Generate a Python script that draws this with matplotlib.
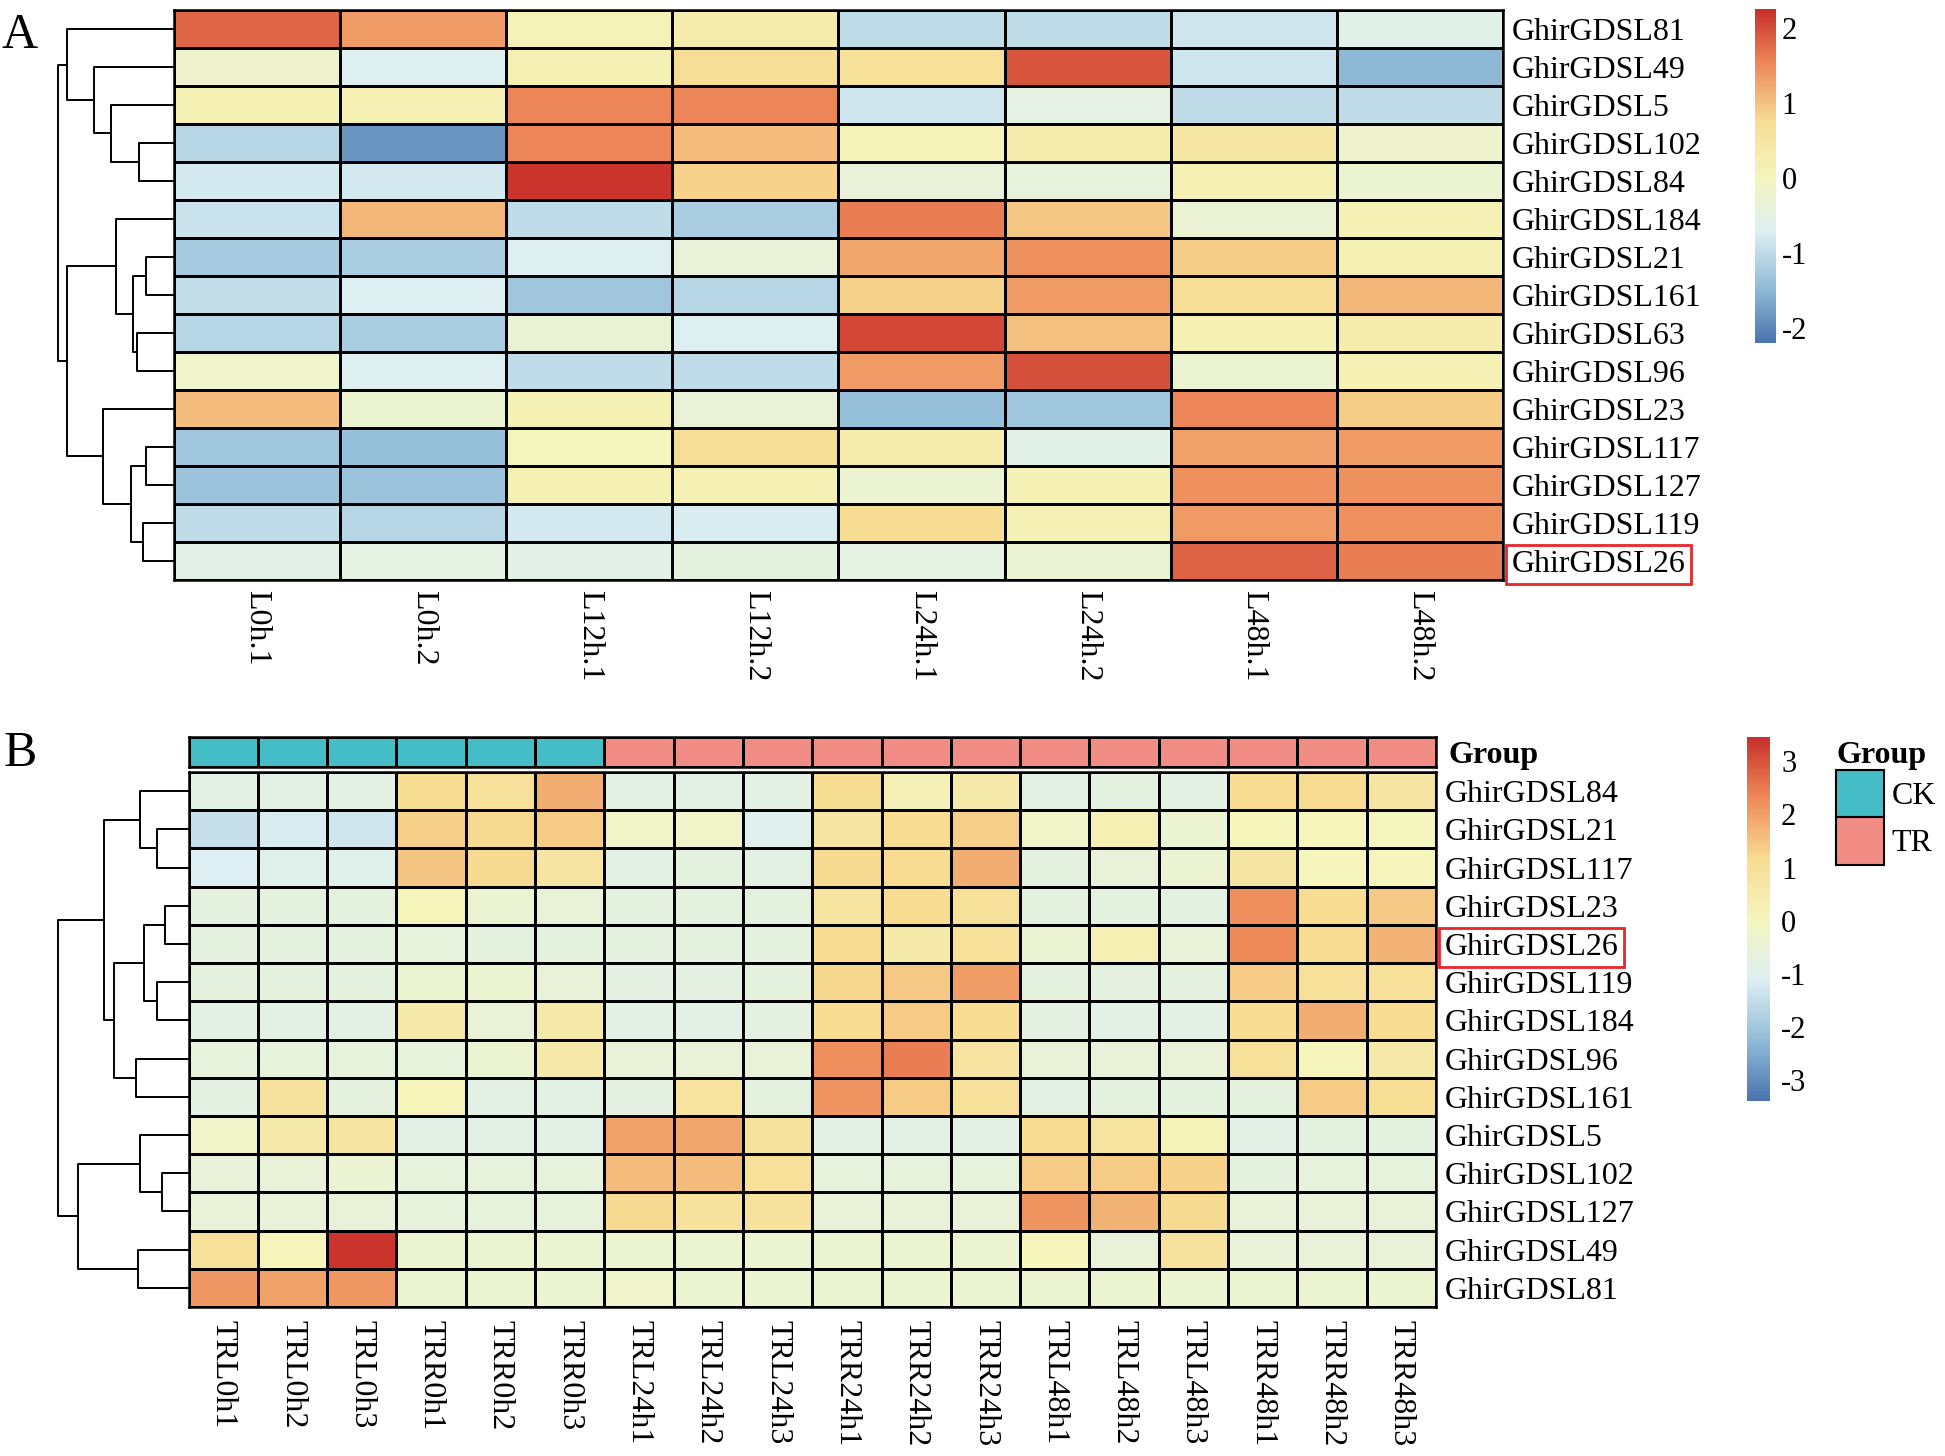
"""Heatmaps A and B of GhirGDSL expression with row dendrograms"""

import matplotlib.pyplot as plt
import numpy as np
from matplotlib.colors import LinearSegmentedColormap, ListedColormap
from matplotlib.patches import Patch

plt.rcParams['font.family'] = ['Liberation Serif', 'DejaVu Serif']
plt.rcParams['axes.unicode_minus'] = False

# ---- panel A data ----
genes_a = ['GhirGDSL81', 'GhirGDSL49', 'GhirGDSL5', 'GhirGDSL102', 'GhirGDSL84',
           'GhirGDSL184', 'GhirGDSL21', 'GhirGDSL161', 'GhirGDSL63', 'GhirGDSL96',
           'GhirGDSL23', 'GhirGDSL117', 'GhirGDSL127', 'GhirGDSL119', 'GhirGDSL26']
samples_a = ['L0h.1', 'L0h.2', 'L12h.1', 'L12h.2', 'L24h.1', 'L24h.2', 'L48h.1', 'L48h.2']
values_a = np.array([
    [1.8, 1.35, 0.1, 0.3, -1.0, -1.0, -0.85, -0.6],
    [-0.2, -0.7, 0.15, 0.7, 0.65, 1.95, -0.85, -1.5],
    [0.15, 0.15, 1.55, 1.55, -0.85, -0.5, -1.0, -1.0],
    [-1.1, -1.85, 1.55, 1.05, 0.1, 0.3, 0.45, -0.2],
    [-0.8, -0.8, 2.2, 0.85, -0.35, -0.4, 0.15, -0.25],
    [-0.9, 1.1, -1.0, -1.2, 1.6, 0.95, -0.3, 0.15],
    [-1.25, -1.2, -0.7, -0.35, 1.25, 1.45, 0.9, 0.15],
    [-0.95, -0.7, -1.3, -1.1, 0.85, 1.35, 0.7, 1.1],
    [-1.1, -1.2, -0.3, -0.7, 2.05, 1.0, 0.15, 0.3],
    [-0.15, -0.7, -1.0, -1.0, 1.35, 2.0, -0.25, 0.15],
    [1.05, -0.25, 0.15, -0.35, -1.4, -1.3, 1.55, 0.9],
    [-1.3, -1.4, 0.0, 0.7, 0.3, -0.6, 1.3, 1.35],
    [-1.35, -1.35, 0.15, 0.15, -0.25, 0.15, 1.45, 1.45],
    [-1.0, -1.1, -0.8, -0.75, 0.75, 0.15, 1.35, 1.45],
    [-0.55, -0.5, -0.55, -0.45, -0.5, -0.3, 1.85, 1.6],
])
# tree: (left, right, height), leaves are row indices
tree_a = ((0, (1, (2, (3, 4, 78), 142), 180), 240),
          ((5, ((6, 7, 63), (8, 9, 82), 93), 130),
           (10, ((11, 12, 63), (13, 14, 70), 97), 160), 240), 260)

# ---- panel B data ----
genes_b = ['GhirGDSL84', 'GhirGDSL21', 'GhirGDSL117', 'GhirGDSL23', 'GhirGDSL26',
           'GhirGDSL119', 'GhirGDSL184', 'GhirGDSL96', 'GhirGDSL161', 'GhirGDSL5',
           'GhirGDSL102', 'GhirGDSL127', 'GhirGDSL49', 'GhirGDSL81']
samples_b = ['TRL0h1', 'TRL0h2', 'TRL0h3', 'TRR0h1', 'TRR0h2', 'TRR0h3',
             'TRL24h1', 'TRL24h2', 'TRL24h3', 'TRR24h1', 'TRR24h2', 'TRR24h3',
             'TRL48h1', 'TRL48h2', 'TRL48h3', 'TRR48h1', 'TRR48h2', 'TRR48h3']
groups_b = ['CK'] * 6 + ['TR'] * 12
values_b = np.array([
    [-0.81, -0.81, -0.81, 1.15, 0.96, 1.82, -0.81, -0.81, -0.81, 1.15, 0.2, 0.53, -0.81, -0.7, -0.81, 1.17, 1.17, 0.75],
    [-1.46, -1.17, -1.31, 1.34, 1.2, 1.42, -0.21, -0.21, -0.98, 0.75, 1.17, 1.34, -0.21, 0.29, -0.42, 0.03, 0.03, 0.0],
    [-1.11, -0.94, -0.94, 1.48, 1.2, 0.75, -0.81, -0.7, -0.81, 1.2, 1.17, 1.82, -0.7, -0.55, -0.4, 0.75, 0.03, 0.03],
    [-0.7, -0.7, -0.7, 0.1, -0.42, -0.55, -0.7, -0.7, -0.7, 0.8, 1.17, 0.96, -0.7, -0.7, -0.77, 2.25, 1.17, 1.45],
    [-0.7, -0.7, -0.7, -0.63, -0.7, -0.7, -0.7, -0.7, -0.7, 1.17, 0.53, 0.96, -0.4, 0.29, -0.55, 2.32, 1.17, 1.77],
    [-0.7, -0.7, -0.7, -0.38, -0.38, -0.55, -0.77, -0.77, -0.7, 1.23, 1.45, 2.05, -0.7, -0.7, -0.7, 1.42, 0.96, 0.96],
    [-0.81, -0.81, -0.81, 0.53, -0.55, 0.53, -0.83, -0.83, -0.77, 1.17, 1.42, 1.17, -0.77, -0.83, -0.83, 1.17, 1.82, 1.17],
    [-0.63, -0.63, -0.63, -0.63, -0.38, 0.53, -0.55, -0.55, -0.55, 2.25, 2.46, 0.8, -0.55, -0.55, -0.55, 0.96, 0.03, 0.53],
    [-0.77, 0.88, -0.7, 0.03, -0.81, -0.81, -0.77, 0.8, -0.7, 2.17, 1.42, 0.96, -0.81, -0.7, -0.7, -0.7, 1.42, 1.1],
    [-0.2, 0.53, 0.75, -0.83, -0.83, -0.83, 1.97, 1.93, 0.88, -0.83, -0.83, -0.83, 1.17, 0.8, 0.15, -0.83, -0.7, -0.7],
    [-0.55, -0.55, -0.4, -0.63, -0.63, -0.63, 1.62, 1.6, 0.96, -0.63, -0.63, -0.63, 1.42, 1.42, 1.3, -0.7, -0.63, -0.63],
    [-0.55, -0.55, -0.55, -0.63, -0.63, -0.63, 1.2, 0.88, 0.88, -0.55, -0.55, -0.55, 2.17, 1.77, 1.2, -0.55, -0.55, -0.55],
    [0.96, 0.03, 3.4, -0.38, -0.38, -0.38, -0.38, -0.38, -0.38, -0.38, -0.38, -0.38, 0.03, -0.55, 0.88, -0.55, -0.55, -0.55],
    [2.1, 1.97, 2.1, -0.38, -0.38, -0.38, -0.25, -0.38, -0.38, -0.38, -0.38, -0.38, -0.38, -0.38, -0.38, -0.38, -0.38, -0.38],
])
tree_b = (((0, (1, 2, 72), 109),
           (((3, 4, 53), (5, 6, 72), 100), (7, 8, 118), 168), 190),
          ((9, (10, 11, 60), 109), (12, 13, 114), 250), 295)

highlight = 'GhirGDSL26'
group_colors = {'CK': '#45BDC6', 'TR': '#F18D84'}

cmap = LinearSegmentedColormap.from_list(
    'heat', ['#4A74AF', '#91BCD8', '#DDEFF2', '#F5F5BD', '#F7DC92', '#EE8A5A', '#C8302A'])

W, H = 1945, 1456
FS = 23
fig = plt.figure(figsize=(W / 100, H / 100), dpi=100)


def px_axes(x0, y0, x1, y1):
    return fig.add_axes([x0 / W, 1 - y1 / H, (x1 - x0) / W, (y1 - y0) / H])


def draw_tree(ax, node):
    if isinstance(node, int):
        return node + 0.5, 0.0
    left, right, h = node
    y1, h1 = draw_tree(ax, left)
    y2, h2 = draw_tree(ax, right)
    ax.plot([h1, h, h, h2], [y1, y1, y2, y2], color='black', lw=1.4,
            solid_capstyle='butt', clip_on=False)
    return (y1 + y2) / 2, h


def heatmap(ax, values, rows, cols, vmin, vmax, xpad):
    mesh = ax.pcolormesh(values, cmap=cmap, vmin=vmin, vmax=vmax,
                         edgecolors='black', linewidth=1.0)
    ax.set_xlim(0, len(cols))
    ax.set_ylim(len(rows), 0)
    ax.set_yticks(np.arange(len(rows)) + 0.5, labels=rows, fontsize=FS)
    ax.yaxis.tick_right()
    ax.set_xticks(np.arange(len(cols)) + 0.5, labels=cols, fontsize=FS, rotation=-90)
    ax.tick_params(axis='y', length=0, pad=6)
    ax.tick_params(axis='x', length=0, pad=xpad)
    for s in ax.spines.values():
        s.set_linewidth(1.8)
    for lab in ax.get_yticklabels():
        if lab.get_text() == highlight:
            lab.set_bbox(dict(facecolor='none', edgecolor='#E8262B', linewidth=2, pad=4))
    return mesh


# ---- panel A ----
ax_a = px_axes(174, 10, 1503, 580)
mesh_a = heatmap(ax_a, values_a, genes_a, samples_a, -2.2, 2.25, 7)

dend_a = px_axes(58, 10, 174, 580)
draw_tree(dend_a, tree_a)
dend_a.set_xlim(tree_a[2], 0)
dend_a.set_ylim(len(genes_a), 0)
dend_a.axis('off')

cax_a = px_axes(1755, 9, 1776, 343)
cb_a = fig.colorbar(mesh_a, cax=cax_a, ticks=[-2, -1, 0, 1, 2])
cb_a.outline.set_visible(False)
cax_a.tick_params(length=0, pad=4, labelsize=22)

fig.text(2 / W, 1 - 48 / H, 'A', fontsize=36, va='baseline')

# ---- panel B ----
ax_b = px_axes(188.5, 772, 1436, 1307)
mesh_b = heatmap(ax_b, values_b, genes_b, samples_b, -3.4, 3.46, 9)

dend_b = px_axes(58, 772, 188.5, 1307)
draw_tree(dend_b, tree_b)
dend_b.set_xlim(tree_b[2], 0)
dend_b.set_ylim(len(genes_b), 0)
dend_b.axis('off')

gax = px_axes(188.5, 737, 1436, 767)
gnames = list(group_colors)
gcodes = np.array([[gnames.index(g) for g in groups_b]])
gax.pcolormesh(gcodes, cmap=ListedColormap([group_colors[g] for g in gnames]),
               vmin=-0.5, vmax=len(gnames) - 0.5, edgecolors='black', linewidth=1.0)
gax.set_xlim(0, len(groups_b))
gax.set_xticks([])
gax.set_yticks([0.5], labels=['Group'], fontsize=FS, fontweight='bold')
gax.yaxis.tick_right()
gax.tick_params(axis='y', length=0, pad=9)
for s in gax.spines.values():
    s.set_linewidth(1.8)

cax_b = px_axes(1747, 737, 1770, 1101)
cb_b = fig.colorbar(mesh_b, cax=cax_b, ticks=[-3, -2, -1, 0, 1, 2, 3])
cb_b.outline.set_visible(False)
cax_b.tick_params(length=0, pad=8, labelsize=22)

handles = [Patch(facecolor=group_colors[g], edgecolor='black', linewidth=1.5) for g in gnames]
fig.legend(handles, gnames, title='Group', loc='upper left',
           bbox_to_anchor=(1836 / W, 1 - 741 / H), frameon=False, fontsize=FS,
           title_fontproperties={'weight': 'bold', 'size': FS}, alignment='left',
           handlelength=1.5, handleheight=1.9, labelspacing=0, handletextpad=0.25,
           borderpad=0, borderaxespad=0)

fig.text(4 / W, 1 - 766 / H, 'B', fontsize=36, va='baseline')

fig.savefig('out.png', dpi=100)
